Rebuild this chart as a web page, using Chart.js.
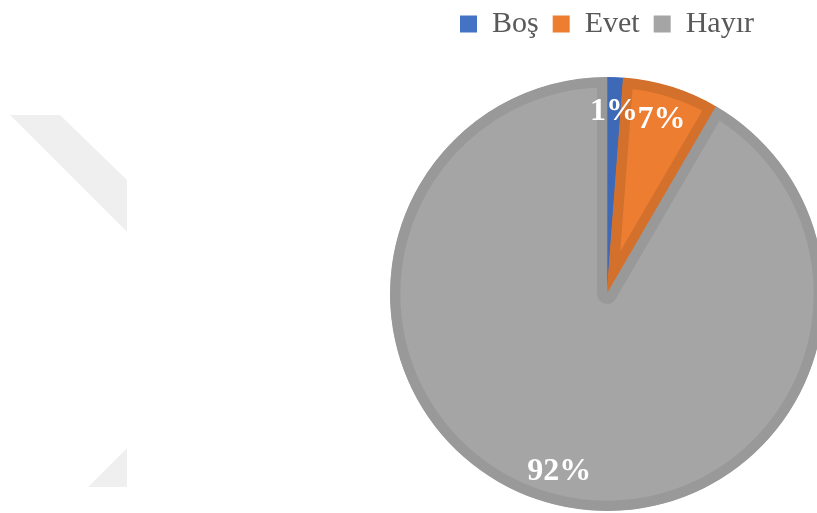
<!DOCTYPE html>
<html>
<head>
<meta charset="utf-8">
<script src="https://cdn.jsdelivr.net/npm/chart.js@4/dist/chart.umd.min.js"></script>
<style>
  html, body { margin: 0; padding: 0; background: #fff; overflow: hidden; }
  #wrap { position: relative; width: 830px; height: 539px; }
  /* faint watermark on the left */
  .wm { position: absolute; background: #efefef; }
  #wm1 { left: 0; top: 0; width: 830px; height: 539px;
         clip-path: polygon(10px 115px, 60px 115px, 127px 180px, 127px 232px); }
  #wm2 { left: 0; top: 0; width: 830px; height: 539px;
         clip-path: polygon(127px 448px, 127px 487px, 88px 487px); }
  canvas { position: absolute; left: 0; top: 0; }
</style>
</head>
<body>
<div id="wrap">
  <div class="wm" id="wm1"></div>
  <div class="wm" id="wm2"></div>
  <canvas id="pie" width="830" height="539"></canvas>
</div>
<script>
// kategorier och andelar (%)
const labels = ['Boş', 'Evet', 'Hayır'];
const values = [1.2, 7.2, 91.6];
const fillColors = ['#4472C4', '#ED7D31', '#A5A5A5'];
const edgeColors = ['#3E69B6', '#D3702C', '#999999'];

// procent-etiketter inne i tårtbitarna
const pctLabels = {
  id: 'pctLabels',
  afterDatasetsDraw(chart) {
    const ctx = chart.ctx;
    const arcs = chart.getDatasetMeta(0).data;
    const total = values.reduce((a, b) => a + b, 0);
    ctx.save();
    ctx.font = 'bold 32px "Liberation Serif"';
    ctx.fillStyle = '#ffffff';
    ctx.textAlign = 'center';
    ctx.textBaseline = 'middle';
    arcs.forEach((arc, i) => {
      const mid = (arc.startAngle + arc.endAngle) / 2;
      const r = arc.outerRadius * 0.845;
      const x = arc.x + Math.cos(mid) * r;
      const y = arc.y + Math.sin(mid) * r;
      ctx.fillText(Math.round(values[i] / total * 100) + '%', x, y + 1);
    });
    ctx.restore();
  }
};

new Chart(document.getElementById('pie'), {
  type: 'pie',
  data: {
    labels,
    datasets: [{
      data: values,
      backgroundColor: fillColors,
      borderColor: edgeColors,
      borderWidth: 10,
      borderAlign: 'inner'
    }]
  },
  options: {
    responsive: false,
    animation: false,
    events: [],
    layout: { padding: { left: 390, right: 6, top: -5, bottom: 0 } },
    plugins: {
      legend: {
        position: 'top',
        labels: {
          boxWidth: 17,
          boxHeight: 17,
          padding: 14,
          color: '#595959',
          font: { family: '"Liberation Serif"', size: 30 },
          // enfärgade rutor utan kantlinje
          generateLabels: (chart) =>
            Chart.overrides.pie.plugins.legend.labels.generateLabels(chart).map(item => ({
              ...item,
              strokeStyle: item.fillStyle,
              lineWidth: 0
            }))
        }
      },
      tooltip: { enabled: false }
    }
  },
  plugins: [pctLabels]
});
</script>
</body>
</html>
